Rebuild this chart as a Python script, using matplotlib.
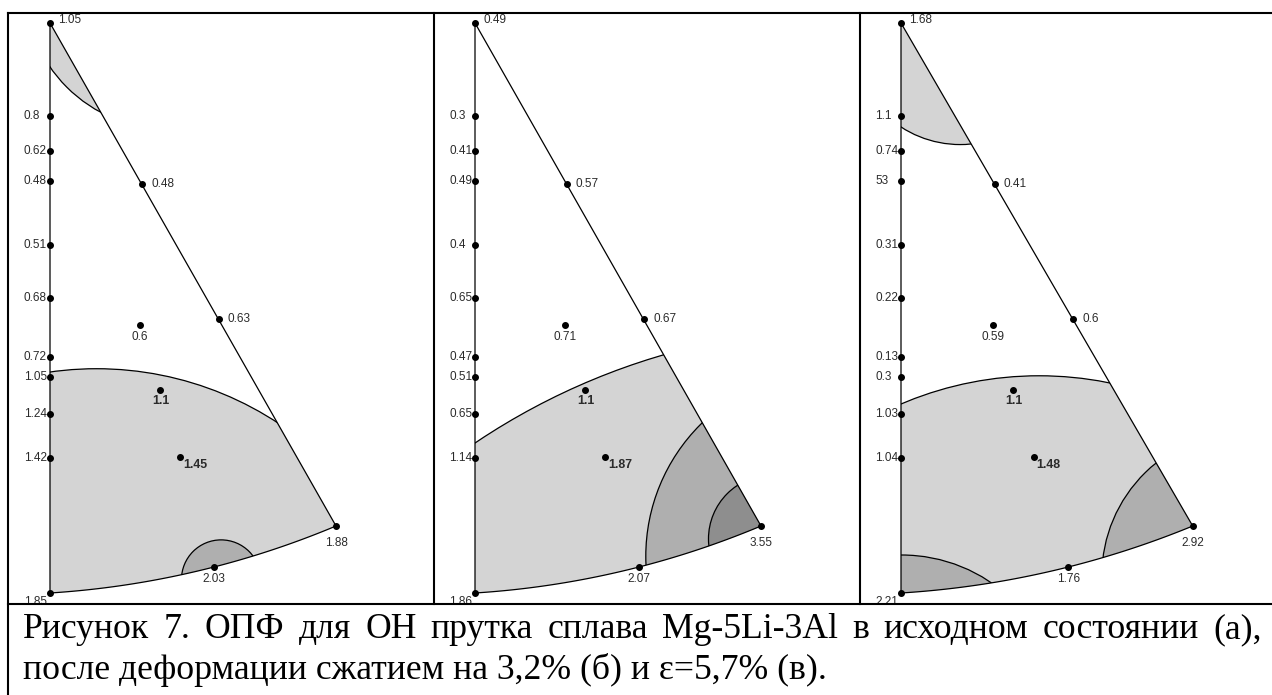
import numpy as np
import matplotlib
matplotlib.use("Agg")
import matplotlib.pyplot as plt
from matplotlib.patches import Circle, PathPatch
from matplotlib.path import Path

W, H = 1272, 695

# positions of the measured poles, px from the 0001 corner (x right, y down)
point_x = [0, 0, 0, 0, 0, 0, 0, 0, 0, 0, 0, 92, 169, 286, 90, 110, 130, 164]
point_y = [0, 93, 128, 158, 222, 275, 334, 354, 391, 435, 570, 161, 296, 503, 302, 367, 434, 544]
point_kind = ["top"] + ["left"] * 9 + ["base", "hyp", "hyp", "corner", "mid", "bold", "bold2", "arc"]

labels_a = ["1.05", "0.8", "0.62", "0.48", "0.51", "0.68", "0.72", "1.05", "1.24", "1.42",
            "1.85", "0.48", "0.63", "1.88", "0.6", "1.1", "1.45", "2.03"]
labels_b = ["0.49", "0.3", "0.41", "0.49", "0.4", "0.65", "0.47", "0.51", "0.65", "1.14",
            "1.86", "0.57", "0.67", "3.55", "0.71", "1.1", "1.87", "2.07"]
labels_c = ["1.68", "1.1", "0.74", "53", "0.31", "0.22", "0.13", "0.3", "1.03", "1.04",
            "2.21", "0.41", "0.6", "2.92", "0.59", "1.1", "1.48", "1.76"]

# iso-lines: three points read on each line + fill shade
contours_a = [([(0, 44), (23, 70), (52, 90)], "light"),
              ([(0, 349), (93, 349), (228, 400)], "light"),
              ([(132, 550), (168, 517), (203, 533)], "mid")]
contours_b = [([(0, 420), (110, 360), (188, 332)], "light"),
              ([(171, 542), (192, 447), (227, 400)], "mid"),
              ([(234, 524), (242, 484), (263, 462)], "dark")]
contours_c = [([(0, 104), (31, 118), (69, 121)], "light"),
              ([(0, 381), (123, 353), (205, 360)], "light"),
              ([(198, 535), (218, 477), (250, 440)], "mid"),
              ([(0, 532), (43, 538), (86, 558)], "mid")]

# triangle corners + one point on the bottom arc
tri_base = (0, 570)
tri_arc = (164, 544)
tri_corner = (286, 503)

shades = {"light": "#d4d4d4", "mid": "#afafaf", "dark": "#8e8e8e"}

# cells: left, right, x of 0001 corner, horizontal stretch
cells = [(8, 434, 50, 1.0), (434, 860, 475, 1.0), (860, 1272, 901, 1.02)]
cell_top, cell_bot, apex_y = 13, 604, 23

caption1 = "Рисунок 7. ОПФ для ОН прутка сплава Mg-5Li-3Al в исходном состоянии (а),"
caption2 = "после деформации сжатием на 3,2% (б) и ε=5,7% (в)."


def circle3(p1, p2, p3):
    (x1, y1), (x2, y2), (x3, y3) = p1, p2, p3
    a = 2 * np.array([[x2 - x1, y2 - y1], [x3 - x1, y3 - y1]], float)
    b = np.array([x2**2 - x1**2 + y2**2 - y1**2, x3**2 - x1**2 + y3**2 - y1**2], float)
    cx, cy = np.linalg.solve(a, b)
    return cx, cy, np.hypot(x1 - cx, y1 - cy)


def triangle_path():
    cx, cy, r = circle3(tri_base, tri_arc, tri_corner)
    a0 = np.arctan2(tri_base[1] - cy, tri_base[0] - cx)
    a1 = np.arctan2(tri_corner[1] - cy, tri_corner[0] - cx)
    t = np.linspace(a0, a1, 80)
    verts = [(0, 0)] + list(zip(cx + r * np.cos(t), cy + r * np.sin(t))) + [(0, 0)]
    codes = [Path.MOVETO] + [Path.LINETO] * (len(verts) - 2) + [Path.CLOSEPOLY]
    return Path(verts, codes)


label_style = {
    "top": ((8, 3), "left"),
    "left": ((-26, 0), "left"),
    "base": ((-26, -9), "left"),
    "hyp": ((9, 0), "left"),
    "corner": ((0, -17), "center"),
    "mid": ((0, -12), "center"),
    "bold": ((1, -11), "center"),
    "bold2": ((3, -8), "left"),
    "arc": ((0, -12), "center"),
}


def draw_panel(ax, labels, contours):
    tri = PathPatch(triangle_path(), fc="none", ec="black", lw=0.9, zorder=3)
    ax.add_patch(tri)
    for pts, shade in contours:
        cx, cy, r = circle3(*pts)
        c = Circle((cx, cy), r, fc=shades[shade], ec="black", lw=0.9, zorder=1)
        ax.add_patch(c)
        c.set_clip_path(tri)
    ax.plot(point_x, point_y, "o", ms=4, color="black", zorder=4, clip_on=False)
    for x, y, kind, lbl in zip(point_x, point_y, point_kind, labels):
        off, ha = label_style[kind]
        bold = kind in ("bold", "bold2")
        t = ax.annotate(lbl, (x, y), xytext=off, textcoords="offset pixels",
                        ha=ha, va="center", fontsize=8.9 if bold else 8.5,
                        color="#2b2b2b", family="Liberation Sans",
                        fontweight="bold" if bold else "normal",
                        annotation_clip=False, zorder=5)
        t.set_clip_path(ax.patch)


fig = plt.figure(figsize=(W / 100, H / 100), dpi=100)
bg = fig.add_axes([0, 0, 1, 1])
bg.set_xlim(0, W)
bg.set_ylim(H, 0)
bg.axis("off")

lw_border = 1.5
bg.plot([8, W], [cell_top, cell_top], color="black", lw=lw_border)
bg.plot([8, 8], [cell_top, H], color="black", lw=lw_border)
bg.plot([8, W], [cell_bot, cell_bot], color="black", lw=lw_border)
for xs in (434, 860):
    bg.plot([xs, xs], [cell_top, cell_bot], color="black", lw=lw_border)

for (left, right, ax0, sx), labels, contours in zip(
        cells, [labels_a, labels_b, labels_c], [contours_a, contours_b, contours_c]):
    ax = fig.add_axes([(left + 1) / W, (H - cell_bot + 1) / H,
                       (right - left - 2) / W, (cell_bot - cell_top - 2) / H])
    ax.set_xlim((left + 1 - ax0) / sx, (right - 1 - ax0) / sx)
    ax.set_ylim(cell_bot - 1 - apex_y, cell_top + 1 - apex_y)
    ax.axis("off")
    draw_panel(ax, labels, contours)

# caption: second line sets the font size, first line is justified
r = fig.canvas.get_renderer()
cap_font = dict(family="Liberation Serif", va="baseline")
t2 = bg.text(23, 679, caption2, fontsize=20, **cap_font)
fs = 20 * 806 / t2.get_window_extent(r).width
t2.set_fontsize(fs)

words = caption1.split(" ")
word_txt = [bg.text(0, 638, w, fontsize=fs, **cap_font) for w in words]
widths = [t.get_window_extent(r).width for t in word_txt]
gap = (1239 - sum(widths)) / (len(words) - 1)
x = 23
for t, w in zip(word_txt, widths):
    t.set_x(x)
    x += w + gap

fig.savefig("out.png", dpi=100)
